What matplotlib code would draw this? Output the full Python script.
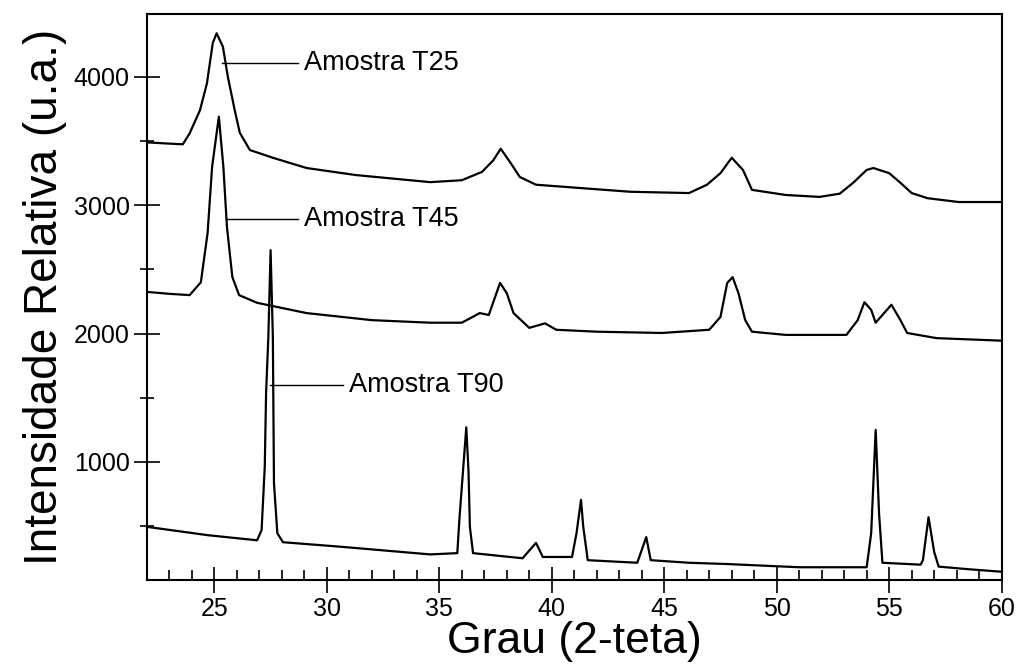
import matplotlib.pyplot as plt
from matplotlib.ticker import MultipleLocator

plt.rcParams['font.family'] = ['Liberation Sans', 'DejaVu Sans']

# Amostra T25 (2-teta, intensidade)
t25_theta = [22.0, 23.0, 23.6, 23.9, 24.36, 24.67, 24.93, 25.1, 25.38, 25.6,
             25.9, 26.13, 26.58, 27.6, 29.1, 31.3, 34.6, 36.0, 36.9, 37.4,
             37.73, 38.13, 38.58, 39.3, 41.2, 43.5, 46.1, 46.9, 47.5, 48.0,
             48.5, 48.9, 50.4, 51.9, 52.8, 53.4, 54.0, 54.3, 55.0, 55.5,
             56.0, 56.7, 58.1, 60.0]
t25_int = [3490, 3480, 3475, 3560, 3740, 3950, 4265, 4340, 4235, 4000,
           3745, 3565, 3430, 3370, 3290, 3235, 3180, 3195, 3260, 3350,
           3440, 3340, 3220, 3160, 3135, 3105, 3095, 3160, 3250, 3370,
           3275, 3120, 3080, 3065, 3090, 3175, 3275, 3290, 3250, 3175,
           3095, 3055, 3025, 3025]

# Amostra T45
t45_theta = [22.0, 23.0, 23.9, 24.4, 24.7, 24.9, 25.2, 25.4, 25.56, 25.8,
             26.1, 26.9, 29.1, 32.0, 34.6, 36.0, 36.8, 37.2, 37.7, 38.0,
             38.3, 39.0, 39.7, 40.2, 42.0, 44.9, 47.0, 47.5, 47.8, 48.04,
             48.3, 48.6, 48.9, 50.4, 53.1, 53.6, 53.9, 54.2, 54.4, 54.7,
             55.1, 55.5, 55.8, 57.1, 60.0]
t45_int = [2325, 2310, 2300, 2400, 2785, 3300, 3690, 3300, 2830, 2440,
           2300, 2240, 2160, 2105, 2085, 2085, 2160, 2145, 2395, 2315,
           2160, 2045, 2080, 2030, 2015, 2005, 2030, 2130, 2395, 2440,
           2315, 2105, 2015, 1990, 1990, 2105, 2245, 2185, 2085, 2145,
           2225, 2105, 2005, 1965, 1945]

# Amostra T90
t90_theta = [22.0, 24.7, 26.9, 27.1, 27.24, 27.3, 27.4, 27.5, 27.6, 27.65,
             27.8, 28.05, 30.6, 34.6, 35.8, 35.9, 36.05, 36.2, 36.3, 36.36,
             36.5, 38.7, 39.3, 39.6, 40.9, 41.1, 41.3, 41.4, 41.6, 43.8,
             44.2, 44.4, 46.1, 47.8, 51.0, 54.0, 54.2, 54.4, 54.55, 54.7,
             56.4, 56.5, 56.75, 57.0, 57.2, 58.5, 60.0]
t90_int = [495, 430, 390, 470, 960, 1540, 1975, 2650, 1975, 835,
           445, 375, 340, 280, 290, 570, 920, 1270, 920, 495,
           290, 250, 370, 260, 260, 445, 705, 495, 235, 215,
           415, 235, 215, 205, 180, 180, 445, 1250, 600, 215,
           200, 236, 570, 300, 185, 165, 145]

labels = ['Amostra T25', 'Amostra T45', 'Amostra T90']
# pontos de ancoragem das etiquetas (x inicio, x fim, y)
label_pos = [(25.33, 28.7, 4110), (25.5, 28.7, 2895), (27.47, 30.7, 1600)]

fig = plt.figure(figsize=(10.2, 6.66), dpi=100)
ax = fig.add_axes([0.144, 0.129, 0.838, 0.850])

for th, it in [(t25_theta, t25_int), (t45_theta, t45_int), (t90_theta, t90_int)]:
    ax.plot(th, it, color='black', lw=1.6)

for lab, (x0, x1, y) in zip(labels, label_pos):
    ax.plot([x0, x1], [y, y], color='black', lw=1.0)
    ax.text(x1 + 0.3, y, lab, fontsize=19.5, va='center', ha='left')

ax.set_xlim(22, 60)
ax.set_ylim(80, 4490)
ax.xaxis.set_major_locator(MultipleLocator(5))
ax.xaxis.set_minor_locator(MultipleLocator(1))
ax.yaxis.set_minor_locator(MultipleLocator(500))
ax.set_yticks([1000, 2000, 3000, 4000])

ax.tick_params(axis='x', which='major', direction='inout', length=19, width=1.2, labelsize=18, pad=3)
ax.tick_params(axis='x', which='minor', direction='in', length=7, width=1.2)
ax.tick_params(axis='y', which='major', direction='inout', length=19, width=1.2, labelsize=18, pad=3)
ax.tick_params(axis='y', which='minor', direction='inout', length=10, width=1.2)

for s in ax.spines.values():
    s.set_linewidth(1.5)

ax.set_xlabel('Grau (2-teta)', fontsize=32, labelpad=0)
ax.set_ylabel('Intensidade Relativa (u.a.)', fontsize=33, labelpad=5)

fig.savefig('out.png', dpi=100)
